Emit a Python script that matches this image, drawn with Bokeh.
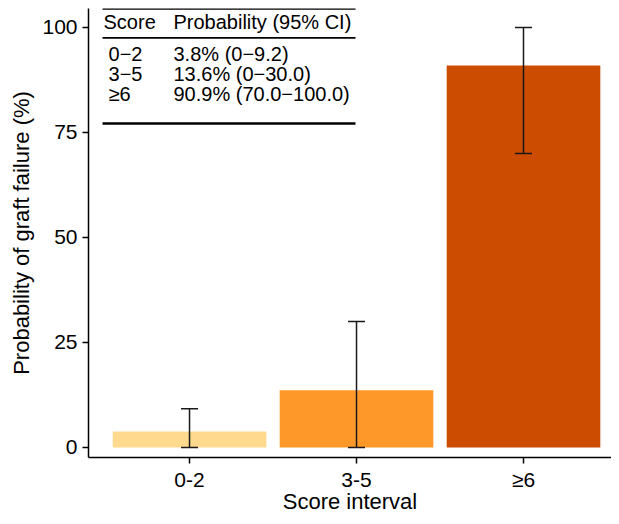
from bokeh.plotting import figure
from bokeh.models import Range1d, FixedTicker, ColumnDataSource, Whisker, TeeHead
from bokeh.core.properties import value
from bokeh.embed import file_html
from bokeh.resources import INLINE

# ---- data ----
categories = ["0-2", "3-5", "≥6"]
probability = [3.8, 13.6, 90.9]
ci_lower = [0.0, 0.0, 70.0]
ci_upper = [9.2, 30.0, 100.0]
bar_colors = ["#FED98E", "#FE9929", "#CC4C02"]

table_header = ["Score", "Probability (95% CI)"]
table_scores = ["0\u22122", "3\u22125", "\u22656"]
table_probs = ["3.8% (0\u22129.2)", "13.6% (0\u221230.0)", "90.9% (70.0\u2212100.0)"]
y_ticks = [0, 25, 50, 75, 100]

FONT = "Liberation Sans"

xpos = [i + 0.5 for i in range(len(categories))]

p = figure(frame_width=523, frame_height=449, output_backend="svg", toolbar_location=None,
           x_range=Range1d(-0.105, 3.027), y_range=Range1d(-2.4, 104.5),
           min_border_left=88, min_border_top=8, min_border_right=0, min_border_bottom=0)
p.outline_line_color = None
p.xgrid.visible = False
p.ygrid.visible = False
p.background_fill_color = "white"
p.border_fill_color = "white"

src = ColumnDataSource(dict(x=xpos, top=probability, lo=ci_lower, hi=ci_upper, color=bar_colors))
p.vbar(x="x", top="top", bottom=0, width=0.92, fill_color="color", line_color=None, source=src)

w = Whisker(base="x", lower="lo", upper="hi", source=src, line_color="#1a1a1a", line_width=1.5,
            level="overlay",
            upper_head=TeeHead(size=17, line_color="#1a1a1a", line_width=1.5),
            lower_head=TeeHead(size=17, line_color="#1a1a1a", line_width=1.5))
p.add_layout(w)

# axes
p.xaxis.ticker = FixedTicker(ticks=xpos)
p.xaxis.major_label_overrides = {x: c for x, c in zip(xpos, categories)}
p.yaxis.ticker = FixedTicker(ticks=y_ticks)
for ax in (p.xaxis[0], p.yaxis[0]):
    ax.axis_line_width = 1.5
    ax.axis_line_color = "black"
    ax.major_tick_line_width = 1.5
    ax.major_tick_line_color = "black"
    ax.major_tick_out = 6
    ax.major_tick_in = 0
    ax.minor_tick_line_color = None
    ax.major_label_text_font = FONT
    ax.major_label_text_font_size = "21px"
    ax.major_label_text_color = "black"
    ax.axis_label_text_font = FONT
    ax.axis_label_text_font_size = "22px"
    ax.axis_label_text_font_style = "normal"
    ax.axis_label_text_color = "black"
p.xaxis.axis_label = "Score interval"
p.yaxis.axis_label = "Probability of graft failure (%)"
p.xaxis.major_label_standoff = 4
p.xaxis.axis_label_standoff = -5
p.yaxis.major_label_standoff = 5
p.yaxis.axis_label_standoff = 5

# inset table
tx0, tx1 = -0.021, 1.494
p.segment(x0=[tx0], x1=[tx1], y0=[104.5], y1=[104.5], line_color="black", line_width=2.5)
p.segment(x0=[tx0], x1=[tx1], y0=[97.5], y1=[97.5], line_color="black", line_width=1.7)
p.segment(x0=[tx0], x1=[tx1], y0=[77.1], y1=[77.1], line_color="black", line_width=2.5)

col1_x, col2_x = 0.015, 0.404
p.text(x=[-0.015, col2_x], y=[101.4, 101.4], text=table_header,
       text_font=value(FONT), text_font_size="20px", text_baseline="middle", text_align="left",
       text_color="black")
row_y = [93.7, 88.8, 84.2]
p.text(x=[col1_x] * 3, y=row_y, text=table_scores,
       text_font=value(FONT), text_font_size="20px", text_baseline="middle", text_align="left",
       text_color="black")
p.text(x=[col2_x] * 3, y=row_y, text=table_probs,
       text_font=value(FONT), text_font_size="20px", text_baseline="middle", text_align="left",
       text_color="black")

open("out.html", "w").write(file_html(p, INLINE))
